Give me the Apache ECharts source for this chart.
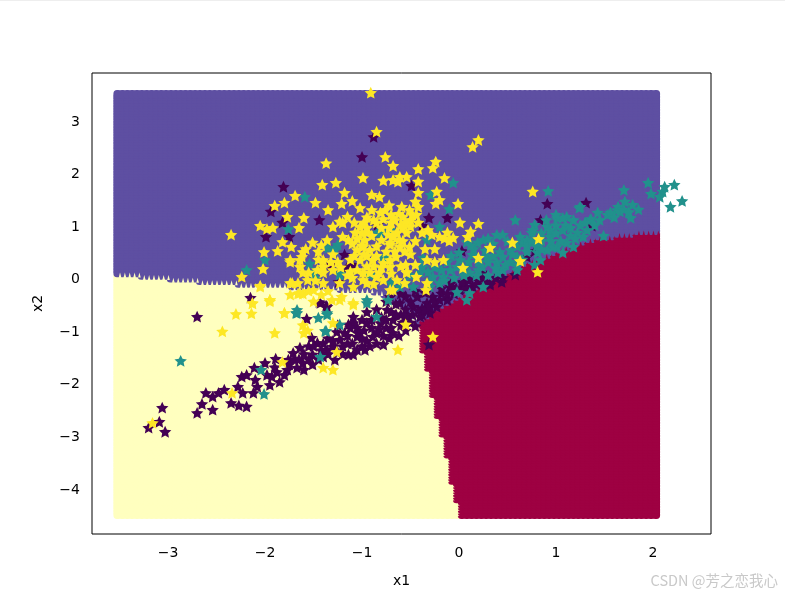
<!DOCTYPE html>
<html>
<head>
<meta charset="UTF-8">
<title>x1 x2 scatter</title>
<script src="https://cdn.jsdelivr.net/npm/echarts@6/dist/echarts.min.js"></script>
<style>
    html, body { margin: 0; padding: 0; background: #fff; }
    #chart { width: 785px; height: 595px; }
</style>
</head>
<body>
<div id="chart"></div>
<script type="text/javascript">
var xTicks = [-3, -2, -1, 0, 1, 2];
var yTicks = [-4, -3, -2, -1, 0, 1, 2, 3];

// decision mesh, one value per column
var meshX0 = -3.52, meshY0 = -4.51, meshStep = 0.05, meshRows = 161;
var purpleFloor = [
    0.1, 0.1, 0.1, 0.1, 0.1, 0.05, 0.05, 0.05, 0.05, 0.05,
    0.05, 0, 0, 0, 0, 0, 0, -0.05, -0.05, -0.05,
    -0.05, -0.05, -0.05, -0.05, -0.05, -0.1, -0.1, -0.1, -0.1, -0.1,
    -0.1, -0.1, -0.1, -0.1, -0.1, -0.1, -0.15, -0.15, -0.15, -0.15,
    -0.15, -0.15, -0.15, -0.15, -0.15, -0.15, -0.2, -0.2, -0.2, -0.2,
    -0.2, -0.2, -0.2, -0.25, -0.25, -0.3, -0.35, -0.4, -0.45, -0.5,
    -0.6, -0.7, -0.8, -0.75, -0.7, -0.6, -0.55, -0.5, -0.45, -0.4,
    -0.35, -0.3, -0.25, -0.2, -0.15, -0.1, -0.05, 0, 0.05, 0.05,
    0.1, 0.15, 0.2, 0.25, 0.3, 0.35, 0.35, 0.4, 0.45, 0.45,
    0.5, 0.55, 0.6, 0.6, 0.65, 0.7, 0.7, 0.75, 0.75, 0.8,
    0.8, 0.8, 0.8, 0.85, 0.85, 0.85, 0.85, 0.9, 0.9, 0.9,
    0.9, 0.9
];
// bottom of the red area, columns after redStartColumn; below it is yellow
var redStartColumn = 62;
var redFloor = [-0.85, -1.35, -1.7, -2.2, -2.6, -2.95, -3.35, -3.85, -4.2, -4.5];

var class0 = [
    [-2.7,-0.74],[-3.06,-2.47],[-3.09,-2.74],[-3.2,-2.85],[-3.03,-2.93],[-2.7,-2.57],[-2.54,-2.51],[-2.65,-2.4],
    [-2.61,-2.19],[-2.54,-2.26],[-2.48,-2.19],[-2.42,-2.13],[-2.35,-2.38],[-2.27,-2.43],[-2.19,-2.45],[-2.23,-2.19],
    [-2.28,-2.07],[-2.24,-1.88],[-2.19,-1.85],[-2.11,-1.71],[-2,-1.62],[-1.89,-1.54],[-2.12,-2.19],[-2.08,-2.07],
    [-2.1,-1.94],[-1.95,-2.04],[-1.93,-1.88],[-1.85,-1.98],[-1.98,-1.85],[-1.88,-1.79],[-1.77,-1.75],[-1.67,-1.71],
    [-1.76,-1.56],[-1.71,-1.43],[-1.64,-1.33],[-1.61,-1.62],[-1.51,-1.65],[-1.51,-1.46],[-1.46,-1.24],[-1.52,-1.14],
    [-1.36,-1.37],[-1.28,-1.56],[-1.3,-1.31],[-1.23,-1.18],[-1.26,-1.03],[-1.14,-0.89],[-1.09,-0.74],[-1.14,-1.46],
    [-1.05,-1.37],[-1.2,-1.3],[-1.04,-1.05],[-1.43,-0.48],[-1.36,-0.55],[-1.57,-0.78],
    [-1.7,-1.55],[-1.6,-1.45],[-1.55,-1.3],[-1.4,-1.25],[-1.4,-1.5],[-1.35,-1.15],[-1.2,-1.45],[-1.25,-0.9],
    [-1.15,-1.1],[-1.1,-1.25],[-1.05,-0.95],[-0.95,-1.2],[-1.0,-0.8],[-0.9,-0.95],[-0.85,-1.05],[-0.8,-0.75],
    [-1.09,-1.46],[-0.97,-1.37],[-0.78,-1.27],[-0.68,-1.05],[-0.89,-1.12],[-1.05,-1.12],[-1.09,-0.86],[-0.95,-0.86],
    [-0.81,-0.86],[-0.68,-0.8],[-0.54,-0.74],[-0.4,-0.74],[-0.3,-0.67],[-0.23,-0.55],[-0.33,-0.48],[-0.47,-0.55],
    [-0.61,-0.48],[-0.74,-0.61],[-0.43,-0.36],[-0.27,-0.36],[-0.12,-0.42],[-0.71,-0.36],[0.01,-0.23],[0.14,-0.17],
    [0.32,-0.13],[0.44,-0.08],[-0.09,-0.17],[-0.55,-0.6],[-0.6,-0.7],[-0.7,-0.65],[-0.75,-0.95],[-0.6,-0.9],
    [-0.5,-0.45],[-0.38,-0.58],[-0.18,-0.3],[-0.05,-0.3],[0.05,-0.1],[0.2,-0.05],[-0.31,-1.27],
    [-1.9,-1.7],[-1.8,-1.85],[-1.75,-1.65],[-1.65,-1.55],[-1.6,-1.75],[-1.55,-1.55],[-1.5,-1.3],[-1.45,-1.55],[-1.42,-1.38],
    [-1.35,-1.45],[-1.3,-1.2],[-1.25,-1.42],[-1.18,-1.05],[-1.15,-1.25],[-1.12,-0.95],[-1.0,-1.3],[-1.0,-1.15],[-0.98,-1.0],
    [-0.92,-1.3],[-0.9,-0.8],[-0.85,-1.25],[-0.82,-0.98],[-0.78,-1.1],[-0.75,-0.8],[-0.72,-1.15],[-0.7,-0.95],[-0.65,-0.7],
    [-0.62,-1.1],[-0.58,-0.85],[-0.55,-1.0],[-0.5,-0.85],[-0.48,-0.7],[-0.45,-0.92],[-0.42,-0.62],[-0.38,-0.7],[-0.35,-0.6],
    [-0.3,-0.55],[-0.25,-0.45],[-0.2,-0.42],[-0.18,-0.2],[-0.12,-0.3],[-0.08,-0.1],[-0.03,-0.2],[0.03,-0.08],[0.08,-0.2],
    [0.1,-0.05],[0.18,-0.12],[0.24,0.0],[0.28,-0.08],[0.38,0.0],[0.42,0.05],[-0.65,-0.5],[-0.55,-0.35],[-0.45,-0.25],
    [-0.35,-0.28],[-0.75,-0.45],[-0.85,-0.6],[-0.95,-0.65],[-0.6,-0.3],
    [0.03,0.51],[-1,2.3],[-0.88,2.68],[-0.49,1.75],[-0.31,1.14],[-0.12,1.14],[-0.38,0.99],[0.91,1.41],[1.31,1.43],
    [0.78,0.51],[0.7,0.4],[1.37,0.99],[0.84,1.1],[0.11,0.02],[0.25,0.1],[0.45,0],[0.58,0.06],[0.32,-0.1],[-0.84,1.01],[-1.1,0.25],
    [-1.81,1.73],[-1.94,1.26],[-1.82,1.05],[-1.75,0.78],[-1.99,0.78],[-1.44,1.1],[-1.18,0.44],[-1.32,0.25],[-1.15,0.21],
    [-1.24,-0.08],[-2.15,-0.38],[-1.44,-0.46],[-1.37,-0.53]
];

var class1 = [
    [-1.59,1.54],[-1.76,0.93],[-2,0.34],[-2.19,0.15],[-1.29,0.55],[-1.25,0.63],[-1.35,0.57],[-1.54,0.27],[-1.48,0],[-1.23,0.08],
    [-1.49,0.11],[-1.67,-0.61],[-2.87,-1.58],[-2.01,-2.21],[-2.04,-1.75],[-1.68,-0.67],[-1.45,-0.76],[-1.36,-0.7],[-1.37,-1.01],
    [-1.23,-0.89],[-1.43,-1.5],[-0.06,1.81],[-0.29,1.58],[-0.1,1.31],[0.58,1.1],[0.92,1.65],[1.24,1.33],[1.43,1.24],[1.49,0.8],
    [-0.2,0.97],[-0.33,0.72],[-0.81,0.86],[-0.71,0.91],[-0.76,0.38],[-0.92,0.06],[0.08,-0.42],[0.11,-0.29],[0.25,-0.17],[-0.02,-0.27],
    [0.25,0.72],[0.39,0.82],[0.45,0.82],[0.19,0.67],[0.08,0.68],[0.32,0.57],[0.42,0.49],[0.29,0.4],[0.14,0.44],[0.01,0.34],
    [-0.09,0.15],[-0.16,0.02],[-0.27,0.02],[-0.37,0.38],[-0.38,0.21],[-0.02,0.21],[0.11,0.1],[0.24,0.21],[0.39,0.29],[0.53,0.3],
    [0.6,0.4],[0.53,0.53],[0.66,0.67],[0.75,0.86],[0.78,1.01],[0.91,0.97],[1.01,1.14],[1.11,1.16],[1.18,1.1],[0.94,0.78],
    [1.07,0.91],[1.22,0.86],[1.01,0.59],[1.11,0.67],[0.91,0.53],[0.84,0.34],[0.78,0.25],[1.32,0.91],[1.35,1.1],[1.53,1.2],
    [1.63,1.29],[0.63,0.78],[-0.2,-0.1],[-0.3,-0.17],[-0.47,-0.17],[-0.61,-0.17],[-0.95,-0.42],
    [1.7,1.67],[1.95,1.81],[1.98,1.6],[2.1,1.64],[2.12,1.73],[2.22,1.77],[2.18,1.35],[2.3,1.46],[2.07,1.54],[1.79,1.39],
    [1.71,1.45],[1.64,1.35],[1.56,1.24],[1.77,1.14],[1.66,1.26],[1.25,1.35],[1.07,1.14],[1.36,1.12],[0.76,0.91],[0.94,0.91],
    [0.7,0.72],[0.81,0.48],[1.07,0.48],[0.97,0.59],[1.18,0.59],[1.28,0.78],
    [-0.84,0.86],[-0.78,0.38],[-1.23,0.06],[-1.28,0.53],[-1.36,-0.67],[-1.67,-0.67],[-1.38,-1.01],[-0.95,-0.48],[-0.85,-0.74],[-0.73,-0.42],
    [0.2,0.3],[0.3,0.05],[0.45,0.15],[0.6,0.15],[0.7,0.5],[0.85,0.7],[1.15,0.8],[1.0,1.0],[0.35,0.65],[-0.12,0.3],[-0.25,0.2],[-0.5,0.05],[-0.7,-0.1],
    [0.3,0.75],[0.15,0.55],[0.2,0.15],[0.3,0.3],[0.45,0.4],[0.5,0.7],[0.55,0.45],[0.6,0.6],[0.65,0.35],[0.7,0.6],[0.75,0.7],[0.8,0.6],
    [0.85,0.85],[0.85,0.55],[0.95,0.7],[1.0,0.85],[1.05,0.7],[1.1,1.0],[1.15,0.95],[1.2,0.75],[1.25,1.0],[1.3,1.05],[1.4,1.0],[1.45,1.1],
    [1.6,1.15],[1.7,1.3],[1.75,1.25],[1.85,1.3],[0.9,1.1],[1.0,1.2],[0.4,0.1],[0.1,0.3],[0.05,0.05],[-0.05,0.0],[-0.15,-0.05],[-0.3,-0.05],[-0.4,0.1],[-0.55,-0.1],
    [0.0,0.48],[0.05,0.18],[-0.08,0.42],[0.18,0.05],[0.27,0.52],[0.35,0.42],[0.48,0.25],[0.12,0.62],[-0.18,0.15],[-0.32,0.12],[0.38,0.18],[0.6,0.25]
];

var class2 = [
    [-1.37,2.18],[-1.41,1.77],[-1.27,1.81],[-1.18,1.62],[-1.69,1.56],[-1.8,1.43],[-1.9,1.37],[-1.48,1.43],[-1.35,1.29],[-1.21,1.41],
    [-1.77,1.16],[-1.6,1.14],[-1.65,0.95],[-2.05,0.99],[-1.98,0.93],[-1.92,0.95],[-2.35,0.82],[-1.82,0.68],[-1.73,0.59],[-1.87,0.51],
    [-2.01,0.49],[-2.02,0.17],[-2.24,0.02],[-2.05,-0.15],[-1.74,0.3],[-1.95,-0.42],[-2.13,-0.48],[-1.74,-0.1],[-1.66,-0.1],[-1.36,0.72],
    [-1.51,0.67],[-1.61,0.49],[-1.64,0.34],[-1.64,0.21],[-1.4,0.21],[-1.46,0.15],[-1.66,-0.3],[-1.74,-0.32],[-1.61,-0.3],[-1.3,0.97],
    [-1.23,1.07],[-1.15,1.16],[-1.2,0.78],[-1.14,0.72],[-1.4,-0.1],[-1.5,-0.23],[-1.23,-0.1],[-1.31,-0.42],[-1.21,-0.36],[-1.56,-0.04],
    [-2.13,-0.49],[-1.95,-0.45],[-2.3,-0.69],[-2.14,-0.68],[-1.8,-0.67],[-2.44,-1.02],[-1.9,-1.05],[-1.61,-0.9],[-1.56,-1],[-1.6,-1.05],
    [-1.3,-0.86],[-1.09,-0.51],[-1.23,-0.42],[-1.5,-0.45],[-1.82,-1.6],[-1.4,-1.71],[-1.3,-1.75],[-2.34,-2.19],[-3.16,-2.76],[-1.26,-1.41],
    [-0.91,3.52],[-0.85,2.78],[0.2,2.62],[0.14,2.49],[-0.76,2.3],[-0.68,2.13],[-0.24,2.21],[-0.27,2.09],[-0.42,2.07],[-0.99,1.9],
    [-0.78,1.85],[-0.68,1.86],[-0.61,1.92],[-0.54,1.92],[-0.63,1.83],[-0.42,1.83],[-0.15,1.9],[-0.23,1.64],[-0.2,1.48],[-0.24,1.41],
    [-0.01,1.41],[-0.42,1.62],[-0.45,1.45],[-0.9,1.58],[-0.82,1.54],[-1.1,1.46],[-1.02,1.33],[-0.9,1.29],[-0.76,1.29],[-0.59,1.35],
    [-0.42,1.35],[-0.51,1.29],[-0.81,1.24],[-0.58,1.16],[-0.66,1.1],[-0.85,1.05],[0.01,1.05],[0.2,1.03],[0.12,0.88],[0.09,0.78],
    [-0.32,0.91],[-0.38,0.86],[-0.12,0.86],[-0.06,0.76],[-0.2,0.78],[-1.02,0.97],[-1.07,0.86],[-0.97,0.72],[-0.73,0.82],[-0.64,0.86],
    [-0.54,0.86],[-0.71,0.67],[-0.61,0.59],[-0.51,0.59],[-0.33,0.34],[-0.16,0.34],[-0.25,0.3],[-0.92,0.53],[-1.05,0.53],[-1.02,0.34],
    [-0.89,0.34],[-0.71,0.34],[-1.05,0.15],[-0.92,0.1],[-0.78,-0.04],[-0.54,0.11],[-0.44,0.02],[-0.64,-0.04],[-0.99,-0.04],[0.04,0.19],
    [0.32,0.57],[0.2,0.38],[0.63,0.32],[0.55,0.67],[0.82,0.74],[0.81,0.11],[0.76,1.64],[-0.34,-0.23],[-0.33,-0.1],[-0.68,-0.23],
    [-1.2,1.05],[-0.95,0.86],[-0.71,0.63],[-0.64,0.86],[-0.99,0.59],[-0.89,0.34],[-0.99,0.1],[-0.85,0.02],[-0.71,0.21],[-0.54,0.1],
    [-1.62,0.4],[-1.4,0.34],[-1.61,0.1],[-1.4,0.1],[-1.74,0.34],[-1.72,-0.1],[-1.64,-0.29],[-1.95,-0.42],[-1.8,-0.67],[-1.09,-0.48],
    [-0.71,-0.23],[-1.09,-0.17],[-2.05,-0.17],[-0.27,-1.12],[-0.63,-1.37],[-0.55,-0.89],
    [-0.95,1.15],[-0.7,1.2],[-0.6,1.0],[-0.8,0.95],[-0.9,0.8],[-0.75,0.5],[-0.85,0.6],[-0.65,0.4],[-0.5,0.45],[-0.55,0.25],
    [-0.8,0.2],[-0.95,0.22],[-1.12,0.35],[-1.15,0.05],[-1.25,0.3],[-1.3,0.45],[-1.1,0.65],[-0.45,0.7],[-0.42,1.05],[-0.5,1.1],
    [-1.08,1.05],[-0.98,1.05],[-0.7,1.05],[-0.62,0.72],[-0.8,0.72],[-0.85,0.42],[-0.95,0.42],[-0.6,0.22],[-0.7,0.08],[-0.82,0.1],
    [-1.05,0.75],[-1.0,0.85],[-0.95,0.95],[-0.88,1.1],[-0.78,1.12],[-0.72,0.95],[-0.68,0.78],[-0.58,0.95],[-0.55,1.05],[-0.5,0.98],
    [-0.48,1.2],[-0.44,1.2],[-0.62,1.22],[-0.72,1.38],[-1.0,0.62],[-1.08,0.42],[-0.98,0.45],[-0.88,0.22],[-0.78,0.28],[-0.66,0.5],
    [-0.56,0.5],[-0.58,0.7],[-1.12,0.12],[-1.22,0.2],[-1.3,0.15],[-1.32,0.3],[-1.45,0.35],[-1.55,0.1],[-1.48,-0.05],[-1.35,-0.25],
    [-1.55,-0.25],[-1.42,-0.32],[-1.58,0.55],[-1.45,0.5],[-1.42,0.62],[-0.95,-0.1],[-1.1,0.0],[-0.88,-0.12],[-0.56,-0.1],[-0.45,0.25],
    [-0.35,0.55],[-0.25,0.55],[-0.1,0.7],[-0.28,0.82],[-0.15,0.75]
];

var STAR = 'path://M0,-100 L28.2,-38.8 L95.1,-30.9 L45.6,14.8 L58.8,80.9 L0,48 L-58.8,80.9 L-45.6,14.8 L-95.1,-30.9 L-28.2,-38.8 Z';
var MESH_MARK = 'path://M42,0 H58 A42,42 0 0 1 100,42 V58 A42,42 0 0 1 58,100 H42 A42,42 0 0 1 0,58 V42 A42,42 0 0 1 42,0 Z';

var YELLOW = 0, RED = 1, PURPLE = 2;
var meshColors = ['#ffffbf', '#9e0142', '#5e4fa2'];
var meshPoints = [];
var teethPoints = [];
for (var r = 0; r < meshRows; r++) {
    var my = meshY0 + r * meshStep;
    for (var c = 0; c < purpleFloor.length; c++) {
        var k = YELLOW;
        if (my >= purpleFloor[c] - 0.025) {
            k = PURPLE;
            // first purple row of the column: small spike of the class below
            if (my - meshStep < purpleFloor[c] - 0.025) {
                teethPoints.push([meshX0 + (c + 0.5) * meshStep, my, c >= redStartColumn ? RED : YELLOW]);
            }
        } else if (c >= redStartColumn) {
            var f = c - redStartColumn < redFloor.length ? redFloor[c - redStartColumn] : -9;
            if (my >= f - 0.025) k = RED;
        }
        meshPoints.push([meshX0 + c * meshStep, my, k]);
    }
}

function tickLabel(v) {
    return String(v).replace('-', '\u2212');
}

function yTickLabel(v) {
    return '{t|' + tickLabel(v) + '}';
}

function meshColor(p) {
    return meshColors[p.data[2]];
}

var axisText = { color: '#000', fontFamily: 'DejaVu Sans', fontSize: 14 };

function starSeries(data, color) {
    return {
        type: 'scatter',
        data: data,
        symbol: STAR,
        symbolSize: [12.4, 11.8],
        itemStyle: { color: color, opacity: 1 },
        silent: true,
        z: 4
    };
}

var myChart = echarts.init(document.getElementById('chart'), null, { renderer: 'canvas' });
myChart.setOption({
    animation: false,
    backgroundColor: '#fff',
    grid: { show: true, left: 92, right: 74, top: 73, bottom: 61, borderColor: '#000', borderWidth: 1, backgroundColor: '#fff' },
    xAxis: {
        type: 'value', min: -3.784, max: 2.598,
        name: 'x1', nameLocation: 'middle', nameGap: 40,
        nameTextStyle: axisText,
        splitLine: { show: false },
        axisLine: { show: false },
        axisTick: { show: true, length: 6, lineStyle: { color: '#000', width: 1 }, customValues: xTicks },
        axisLabel: Object.assign({ margin: 12, formatter: tickLabel, customValues: xTicks }, axisText)
    },
    yAxis: {
        type: 'value', min: -4.875, max: 3.894,
        name: 'x2', nameLocation: 'middle', nameGap: 47,
        nameTextStyle: axisText,
        splitLine: { show: false },
        axisLine: { show: false },
        axisTick: { show: true, length: 6, lineStyle: { color: '#000', width: 1 }, customValues: yTicks },
        axisLabel: Object.assign({
            margin: 12, formatter: yTickLabel, customValues: yTicks,
            rich: { t: Object.assign({ padding: [4, 0, 0, 0] }, axisText) }
        }, axisText)
    },
    graphic: [
        { type: 'rect', left: 0, top: 0, silent: true, shape: { width: 785, height: 1 }, style: { fill: '#eeeeee' } },
        {
            type: 'text', right: 7, top: 573, silent: true,
            style: { text: 'CSDN @芳之恋我心', fill: '#c9c9c9', font: '14.5px "Noto Sans CJK SC"' }
        }
    ],
    series: [
        {
            type: 'scatter',
            data: meshPoints,
            symbol: MESH_MARK,
            symbolSize: 8.33,
            silent: true,
            progressive: 0,
            itemStyle: { opacity: 1, color: meshColor },
            z: 2
        },
        {
            type: 'scatter',
            data: teethPoints,
            symbol: 'triangle',
            symbolSize: [2.6, 5],
            symbolOffset: [0, 2],
            silent: true,
            itemStyle: { opacity: 1, color: meshColor },
            z: 3
        },
        starSeries(class0, '#440154'),
        starSeries(class1, '#21918c'),
        starSeries(class2, '#fde725')
    ]
});
</script>
</body>
</html>
